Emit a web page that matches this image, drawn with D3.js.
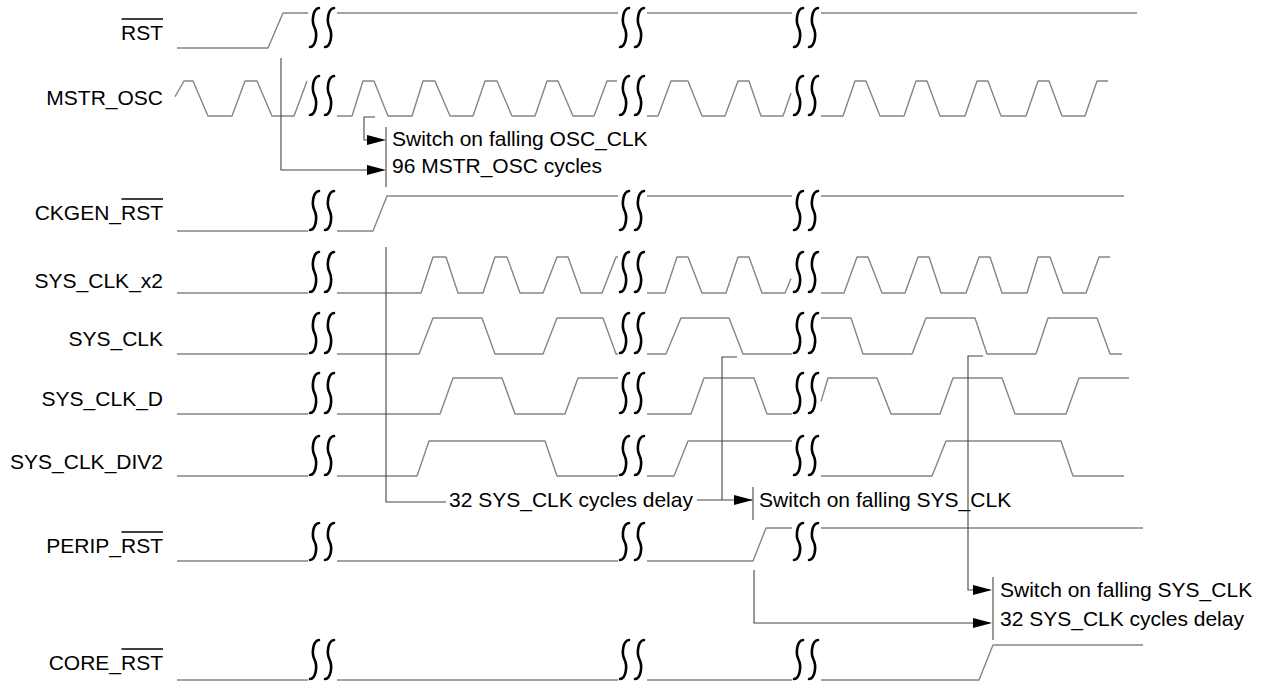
<!DOCTYPE html>
<html><head><meta charset="utf-8">
<script src="https://cdn.jsdelivr.net/npm/d3@7"></script>
<style>body{margin:0;background:#fff}svg{display:block}</style>
</head><body>
<svg id="chart" width="1265" height="687"></svg>
<script>
// ---------------- DATA ----------------
const signalNames   = ["RST","MSTR_OSC","CKGEN_RST","SYS_CLK_x2","SYS_CLK","SYS_CLK_D","SYS_CLK_DIV2","PERIP_RST","CORE_RST"];
const labelPrefix   = ["","MSTR_OSC","CKGEN_","SYS_CLK_x2","SYS_CLK","SYS_CLK_D","SYS_CLK_DIV2","PERIP_","CORE_"];
const labelOverline = ["RST","","RST","","","","","RST","RST"];
const breakTimes = [322, 632, 806];

// waveform vertices: [time, logic level]; each sub-array is a segment between breaks
const waveRST = [
  [[177,0],[268,0],[283,1],[308,1]],
  [[337,1],[618,1]],
  [[647,1],[792,1]],
  [[821,1],[1137,1]]
];
const waveMSTR = [
  [[175,0.55],[184,1],[193,1],[208,0],[232,0],[245,1],[257,1],[272,0],[294,0],[307,1]],
  [[337,0],[352,0],[363,1],[374,1],[388,0],[412,0],[423,1],[435,1],[450,0],[473,0],[485,1],[497,1],[512,0],[535,0],[547,1],[558,1],[573,0],[594,0],[607,1],[617,1]],
  [[647,0],[658,0],[671,1],[688,1],[702,0],[725,0],[738,1],[749,1],[761,0],[783,0],[791,0.65]],
  [[821,0],[843,0],[855,1],[866,1],[880,0],[904,0],[916,1],[927,1],[940,0],[965,0],[977,1],[988,1],[1001,0],[1026,0],[1038,1],[1049,1],[1062,0],[1085,0],[1097,1],[1108,1]]
];
const waveCKGEN = [
  [[177,0],[308,0]],
  [[337,0],[373,0],[387,1],[618,1]],
  [[647,1],[792,1]],
  [[821,1],[1124,1]]
];
const waveX2 = [
  [[177,0],[308,0]],
  [[337,0],[421,0],[433,1],[446,1],[458,0],[483,0],[495,1],[507,1],[520,0],[543,0],[557,1],[568,1],[581,0],[602,0],[616,1],[618,1]],
  [[647,0],[665,0],[677,1],[688,1],[702,0],[726,0],[738,1],[749,1],[762,0],[785,0],[791,0.4]],
  [[821,0],[844,0],[857,1],[868,1],[882,0],[905,0],[918,1],[929,1],[941,0],[966,0],[979,1],[990,1],[1002,0],[1027,0],[1038,1],[1050,1],[1063,0],[1086,0],[1099,1],[1110,1]]
];
const waveSYS = [
  [[177,0],[308,0]],
  [[337,0],[419,0],[433,1],[482,1],[495,0],[543,0],[557,1],[603,1],[616,0],[618,0]],
  [[647,0],[666,0],[681,1],[729,1],[743,0],[792,0]],
  [[821,1],[851,1],[863,0],[912,0],[926,1],[975,1],[987,0],[1036,0],[1048,1],[1097,1],[1110,0],[1122,0]]
];
const waveSYSD = [
  [[177,0],[308,0]],
  [[337,0],[440,0],[453,1],[502,1],[515,0],[565,0],[578,1],[618,1]],
  [[647,0],[691,0],[704,1],[754,1],[767,0],[792,0]],
  [[821,0.35],[828,1],[877,1],[891,0],[940,0],[953,1],[1002,1],[1015,0],[1066,0],[1079,1],[1129,1]]
];
const waveDIV2 = [
  [[177,0],[308,0]],
  [[337,0],[417,0],[429,1],[545,1],[557,0],[618,0]],
  [[647,0],[674,0],[688,1],[792,1]],
  [[821,0],[932,0],[946,1],[1061,1],[1073,0],[1124,0]]
];
const wavePERIP = [
  [[177,0],[308,0]],
  [[337,0],[618,0]],
  [[647,0],[753,0],[766,1],[792,1]],
  [[821,1],[1143,1]]
];
const waveCORE = [
  [[177,0],[308,0]],
  [[337,0],[618,0]],
  [[647,0],[792,0]],
  [[821,0],[979,0],[993,1],[1143,1]]
];
const waves = [waveRST, waveMSTR, waveCKGEN, waveX2, waveSYS, waveSYSD, waveDIV2, wavePERIP, waveCORE];

const noteTexts = [
  "Switch on falling OSC_CLK",
  "96 MSTR_OSC cycles",
  "32 SYS_CLK cycles delay",
  "Switch on falling SYS_CLK",
  "Switch on falling SYS_CLK",
  "32 SYS_CLK cycles delay"
];
const noteTimes = [392, 392, 449, 759, 1000, 1000];

// connector polylines (time coordinates)
const connectorTimes = [
  [281, 281, 383],
  [375, 364, 364, 383],
  [386, 386, 446],
  [737, 722, 722],
  [697, 752],
  [754, 754, 990],
  [983, 968, 968, 990]
];
const arrowTimes = [386, 386, 753, 992, 992];
const barTimes = [386, 753, 993];

// ---------------- LAYOUT ----------------
const rowHigh = [13, 81, 196, 257, 318, 378, 441, 528, 645];
const rowLow  = [48, 116, 231, 293, 354, 414, 476, 561, 680];
const labelBase = [40, 105, 220, 288, 346, 406, 469, 553, 670];
const noteBase  = [146, 173, 507, 507, 597, 626];
const connectorY = [
  [58, 170, 170],
  [117, 117, 140, 140],
  [247, 502, 502],
  [357, 357, 500],
  [500, 500],
  [570, 623, 623],
  [356, 356, 590, 590]
];
const arrowY = [170, 140, 500, 590, 623];
const barY = [[127,187],[487,520],[577,640]];
const labelX = 163;
const FONT = "'Liberation Sans', Arial, Helvetica, sans-serif";

const svg = d3.select("#chart");
const x = d3.scaleLinear().domain([0, 1265]).range([0, 1265]);

// waveforms
const gWave = svg.append("g");
waves.forEach((segs, i) => {
  const y = d3.scaleLinear().domain([0, 1]).range([rowLow[i], rowHigh[i]]);
  const line = d3.line().x(d => x(d[0])).y(d => y(d[1]));
  gWave.selectAll(null).data(segs).enter().append("path")
    .attr("d", line)
    .attr("fill", "none")
    .attr("stroke", "#858585")
    .attr("stroke-width", 1.4)
    .attr("stroke-linejoin", "round");
});

// break symbols: integral-like strokes
const gBreak = svg.append("g");
function sPath(cx, top, bot) {
  const mid = (top + bot) / 2, q = (bot - top) * 0.16;
  return `M${cx+4.5},${top} C${cx-1.5},${top+0.5} ${cx-3.2},${mid-q} ${cx},${mid}` +
         ` S${cx+1.5},${bot-0.5} ${cx-4.5},${bot}`;
}
waves.forEach((segs, i) => {
  breakTimes.forEach(bt => {
    const cx = x(bt);
    [-7.5, 7.5].forEach(off => {
      gBreak.append("path")
        .attr("d", sPath(cx + off, rowHigh[i] - 5, rowLow[i] - 1))
        .attr("fill", "none").attr("stroke", "#000")
        .attr("stroke-width", 2.6).attr("stroke-linecap", "round");
    });
  });
});

// labels
const gLab = svg.append("g");
signalNames.forEach((name, i) => {
  const t = gLab.append("text")
    .attr("x", labelX).attr("y", labelBase[i])
    .attr("text-anchor", "end")
    .attr("font-family", FONT).attr("font-size", 21).attr("fill", "#000")
    .text(labelPrefix[i] + labelOverline[i]);
  if (labelOverline[i]) {
    const w = t.node().getSubStringLength(labelPrefix[i].length, labelOverline[i].length);
    gLab.append("line")
      .attr("x1", labelX - w + 0.5).attr("x2", labelX)
      .attr("y1", labelBase[i] - 21).attr("y2", labelBase[i] - 21)
      .attr("stroke", "#000").attr("stroke-width", 1.5);
  }
});

// connectors
const gAnn = svg.append("g");
connectorTimes.forEach((ts, k) => {
  const pts = ts.map((t, j) => [x(t), connectorY[k][j]]);
  gAnn.append("path").attr("d", d3.line()(pts))
    .attr("fill", "none").attr("stroke", "#444").attr("stroke-width", 1.1);
});
barTimes.forEach((t, k) => {
  gAnn.append("line").attr("x1", x(t)).attr("x2", x(t))
    .attr("y1", barY[k][0]).attr("y2", barY[k][1])
    .attr("stroke", "#444").attr("stroke-width", 1.1);
});
arrowTimes.forEach((t, k) => {
  const tx = x(t), ty = arrowY[k];
  gAnn.append("path")
    .attr("d", `M${tx},${ty} L${tx-19},${ty-5} L${tx-19},${ty+5} Z`)
    .attr("fill", "#000");
});

// notes
noteTexts.forEach((s, k) => {
  svg.append("text").attr("x", x(noteTimes[k])).attr("y", noteBase[k])
    .attr("font-family", FONT).attr("font-size", 21).attr("fill", "#000")
    .text(s);
});
</script>
</body></html>
